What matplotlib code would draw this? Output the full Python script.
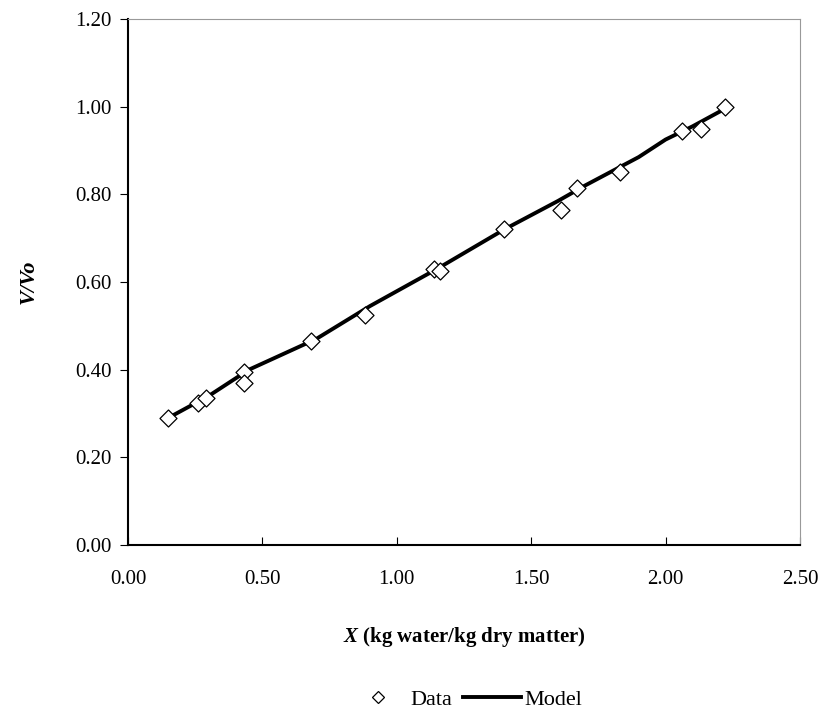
import numpy as np
import matplotlib.pyplot as plt
from matplotlib.lines import Line2D

# measured points
x_data = [0.15, 0.26, 0.29, 0.43, 0.43, 0.68, 0.88, 1.14, 1.16, 1.40, 1.61, 1.67, 1.83, 2.06, 2.13, 2.22]
y_data = [0.29, 0.325, 0.335, 0.395, 0.37, 0.465, 0.525, 0.63, 0.625, 0.72, 0.765, 0.815, 0.85, 0.945, 0.95, 1.00]

# model curve
x_model = [0.15, 0.30, 0.45, 0.70, 0.90, 1.15, 1.40, 1.60, 1.70, 1.90, 2.00, 2.10, 2.22]
y_model = [0.29, 0.34, 0.40, 0.47, 0.545, 0.63, 0.72, 0.785, 0.82, 0.885, 0.925, 0.955, 0.995]

x_ticks = [0.0, 0.5, 1.0, 1.5, 2.0, 2.5]
y_ticks = [0.0, 0.2, 0.4, 0.6, 0.8, 1.0, 1.2]

plt.rcParams['font.family'] = ['Liberation Serif', 'DejaVu Serif']
plt.rcParams['mathtext.fontset'] = 'custom'
plt.rcParams['mathtext.it'] = 'Liberation Serif:italic:bold'

fig = plt.figure(figsize=(8.32, 7.22), dpi=100)
ax = fig.add_axes([128 / 832, 1 - 545 / 722, 672 / 832, 526 / 722])

ax.plot(x_model, y_model, color='black', linewidth=2.8, zorder=2)
ax.scatter(x_data, y_data, marker='D', s=75, facecolor='white', edgecolor='black',
           linewidth=0.9, zorder=3)

ax.set_xlim(0, 2.5)
ax.set_ylim(0, 1.2)
ax.set_xticks(x_ticks)
ax.set_yticks(y_ticks)
ax.set_xticklabels([f'{v:.2f}' for v in x_ticks], fontsize=15)
ax.set_yticklabels([f'{v:.2f}' for v in y_ticks], fontsize=15)
ax.tick_params(axis='x', direction='in', length=6, pad=18)
ax.tick_params(axis='y', direction='out', length=6, pad=6)

for side in ['top', 'right']:
    ax.spines[side].set_color('#999999')
for side in ['left', 'bottom']:
    ax.spines[side].set_color('black')
    ax.spines[side].set_linewidth(1.5)

ax.set_xlabel(r'$\mathit{X}$ (kg water/kg dry matter)', fontsize=15, fontweight='bold', labelpad=26)
ax.set_ylabel('V/Vo', fontsize=16, fontweight='bold', style='italic', labelpad=26)

handles = [
    Line2D([], [], marker='D', markersize=6, linestyle='none', markerfacecolor='white',
           markeredgecolor='black', markeredgewidth=0.9),
    Line2D([], [], color='black', linewidth=2.8),
]
fig.legend(handles, ['Data', 'Model'], loc='center', bbox_to_anchor=(0.56, 1 - 700 / 722),
           ncol=2, frameon=False, fontsize=16, handlelength=2.6, columnspacing=0.5,
           handletextpad=0.15)

fig.savefig('out.png', dpi=100)
